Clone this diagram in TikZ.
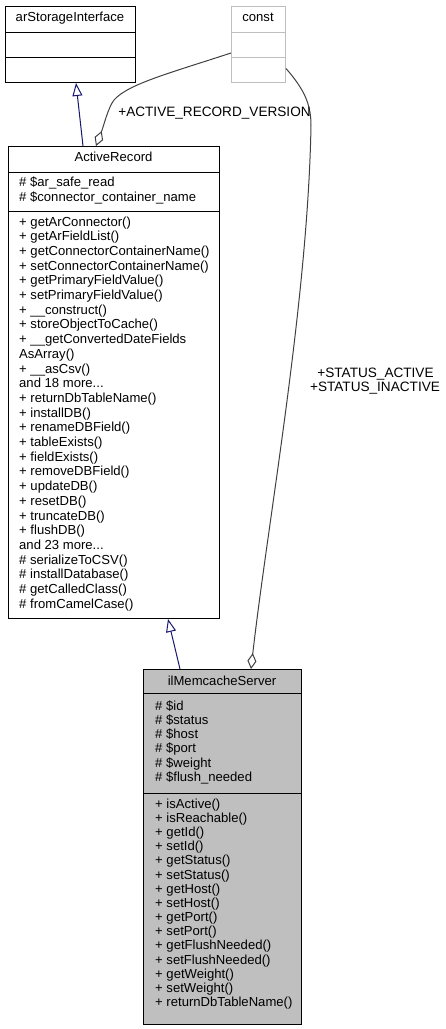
\documentclass[tikz,border=0pt]{standalone}
\usepackage{fontspec}
\setmainfont{Liberation Sans}
\usetikzlibrary{arrows.meta,calc}
\definecolor{navy}{HTML}{191970}
\definecolor{edgegray}{HTML}{404040}
\definecolor{boxgray}{HTML}{BFBFBF}
\newcommand\threedots{...}
\begin{document}
\begin{tikzpicture}[x=1bp,y=-1bp,
  font=\fontsize{13.1bp}{14.7bp}\selectfont,
  comp/.style={draw, rectangle, inner sep=0pt, anchor=north west, line width=1bp},
  txt/.style={inner sep=0pt, anchor=base west},
  ttl/.style={inner sep=0pt, anchor=base},
  lbl/.style={inner sep=0pt, anchor=base, font=\fontsize{13.6bp}{14.7bp}\selectfont},
  inherit/.style={draw=navy, line width=1bp, -{Triangle[open, length=13bp, width=10bp]}},
  agg/.style={draw=edgegray, line width=1bp, -{Diamond[open, length=16bp, width=9bp]}},
]
\useasboundingbox (0,0) rectangle (446,1029);

% arStorageInterface
\node[comp, minimum width=130bp, minimum height=26bp] (si-t) at (5,6) {};
\node[comp, minimum width=130bp, minimum height=25bp] (si-a) at (5,32) {};
\node[comp, minimum width=130bp, minimum height=25bp] (si-m) at (5,57) {};
\node[ttl] (si-n) at (70,21.7) {arStorageInterface};

% const
\node[comp, draw=boxgray, minimum width=54bp, minimum height=26bp] (const-t) at (231,6) {};
\node[comp, draw=boxgray, minimum width=54bp, minimum height=25bp] (const-a) at (231,32) {};
\node[comp, draw=boxgray, minimum width=54bp, minimum height=25bp] (const-m) at (231,57) {};
\node[ttl] (const-n) at (258,21.7) {const};

% ActiveRecord
\node[comp, minimum width=211bp, minimum height=26bp] (ar-t) at (8,146) {};
\node[comp, minimum width=211bp, minimum height=39bp] (ar-a) at (8,172) {};
\node[comp, minimum width=211bp, minimum height=407bp] (ar-m) at (8,211) {};
\node[ttl] (ar-n) at (113.5,161.7) {ActiveRecord};
\foreach \t [count=\i from 0] in {{\# \$ar\_safe\_read},{\# \$connector\_container\_name}}
  \node[txt] (ar-at-\i) at (19,186.7+14.7*\i) {\t};
\foreach \t [count=\i from 0] in {
  {+ getArConnector()},
  {+ getArFieldList()},
  {+ getConnectorContainerName()},
  {+ setConnectorContainerName()},
  {+ getPrimaryFieldValue()},
  {+ setPrimaryFieldValue()},
  {+ \_\_construct()},
  {+ storeObjectToCache()},
  {+ \_\_getConvertedDateFields},
  {AsArray()},
  {+ \_\_asCsv()},
  {and 18 more\threedots},
  {+ returnDbTableName()},
  {+ installDB()},
  {+ renameDBField()},
  {+ tableExists()},
  {+ fieldExists()},
  {+ removeDBField()},
  {+ updateDB()},
  {+ resetDB()},
  {+ truncateDB()},
  {+ flushDB()},
  {and 23 more\threedots},
  {\# serializeToCSV()},
  {\# installDatabase()},
  {\# getCalledClass()},
  {\# fromCamelCase()}}
  \node[txt] (ar-me-\i) at (19,226+14.7*\i) {\t};

% ilMemcacheServer
\node[comp, fill=boxgray, minimum width=158bp, minimum height=24bp] (im-t) at (143,669) {};
\node[comp, fill=boxgray, minimum width=158bp, minimum height=100bp] (im-a) at (143,693) {};
\node[comp, fill=boxgray, minimum width=158bp, minimum height=231bp] (im-m) at (143,793) {};
\node[ttl] (im-n) at (222,685) {ilMemcacheServer};
\foreach \t [count=\i from 0] in {
  {\# \$id},{\# \$status},{\# \$host},{\# \$port},{\# \$weight},{\# \$flush\_needed}}
  \node[txt] (im-at-\i) at (155,710+14.3*\i) {\t};
\foreach \t [count=\i from 0] in {
  {+ isActive()},
  {+ isReachable()},
  {+ getId()},
  {+ setId()},
  {+ getStatus()},
  {+ setStatus()},
  {+ getHost()},
  {+ setHost()},
  {+ getPort()},
  {+ setPort()},
  {+ getFlushNeeded()},
  {+ setFlushNeeded()},
  {+ getWeight()},
  {+ setWeight()},
  {+ returnDbTableName()}}
  \node[txt] (im-me-\i) at (155,808.3+14.16*\i) {\t};

% connectors
\draw[inherit] ([xshift=75bp]ar-t.north west) -- ([xshift=71bp]si-m.south west);
\draw[inherit] ([xshift=37bp]im-t.north west) -- ([xshift=160bp]ar-m.south west);
\draw[agg] ([yshift=-8bp]const-a.west) .. controls (170,73) and (128,84) .. (114,100)
  .. controls (108,108) and (104,125) .. ([xshift=88bp]ar-t.north west);
\draw[agg] ([yshift=1.5bp]const-m.east) .. controls (303,88) and (311,103) .. (311,125)
  .. controls (308,300) and (268,520) .. ([xshift=108bp]im-t.north west);

% labels
\node[lbl] (lbl-ver) at (214.5,116) {+ACTIVE\_RECORD\_VERSION};
\node[lbl] (lbl-st1) at (375.5,377.3) {+STATUS\_ACTIVE};
\node[lbl] (lbl-st2) at (375,391.7) {+STATUS\_INACTIVE};
\end{tikzpicture}
\end{document}
